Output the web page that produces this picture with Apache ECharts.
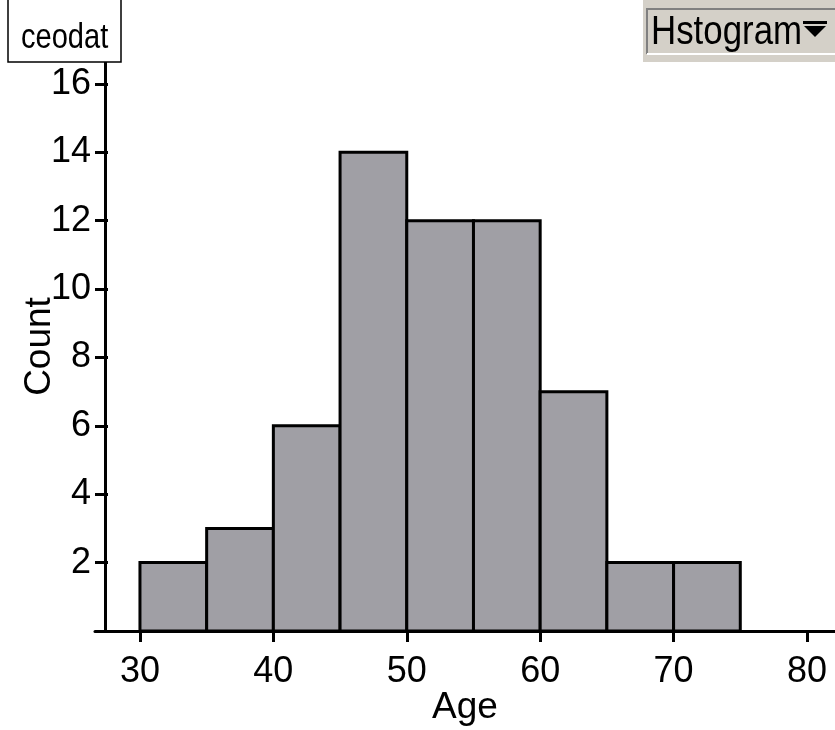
<!DOCTYPE html>
<html>
<head>
<meta charset="utf-8">
<style>
  html, body { margin: 0; padding: 0; background: #ffffff; }
  #chart { width: 835px; height: 730px; }
</style>
<script src="https://cdn.jsdelivr.net/npm/echarts@6/dist/echarts.min.js"></script>
</head>
<body>
<div id="chart"></div>
<script>
// Age distribution of CEOs (dataset "ceodat"), 5-year bins
const binStarts = [30, 35, 40, 45, 50, 55, 60, 65, 70];
const counts = [2, 3, 6, 14, 12, 12, 7, 2, 2];
const binWidth = 5;
const xTicks = [30, 40, 50, 60, 70, 80];
const yTicks = [2, 4, 6, 8, 10, 12, 14, 16];

const FONT = '"Liberation Sans", Arial, Helvetica, sans-serif';

const chart = echarts.init(document.getElementById('chart'), null, { renderer: 'canvas' });

const barData = binStarts.map((s, i) => [s, s + binWidth, counts[i]]);

const yBase = {
  type: 'value',
  position: 'left',
  min: 0,
  max: 16.64,
  interval: 2,
  offset: -10,
  splitLine: { show: false }
};

chart.setOption({
  animation: false,
  backgroundColor: '#ffffff',
  grid: { left: 95, right: 0, top: 62, bottom: 99, containLabel: false, outerBoundsMode: 'none' },
  xAxis: {
    type: 'value',
    min: 26.63,
    max: 82.1,
    interval: 10,
    name: 'Age',
    nameLocation: 'middle',
    nameGap: 58,
    nameMoveOverlap: false,
    nameTextStyle: { fontFamily: FONT, fontSize: 37, color: '#000' },
    axisLine: { show: true, lineStyle: { color: '#000', width: 3 } },
    axisTick: {
      show: true, length: 11, lineStyle: { color: '#000', width: 3 },
      customValues: xTicks
    },
    axisLabel: {
      show: true, margin: 23, fontFamily: FONT, fontSize: 36, color: '#000',
      customValues: xTicks
    },
    splitLine: { show: false }
  },
  yAxis: [
    Object.assign({}, yBase, {
      name: 'Count',
      nameLocation: 'middle',
      nameGap: 47,
      nameRotate: 90,
      nameMoveOverlap: false,
      nameTextStyle: { fontFamily: FONT, fontSize: 37, color: '#000' },
      axisLine: { show: true, lineStyle: { color: '#000', width: 3 } },
      axisTick: { show: true, length: 10, lineStyle: { color: '#000', width: 3 }, customValues: yTicks },
      axisLabel: { show: true, margin: 14, fontFamily: FONT, fontSize: 36, color: '#000', customValues: yTicks }
    }),
    Object.assign({}, yBase, {
      axisLine: { show: false },
      axisTick: { show: true, inside: true, length: 3, lineStyle: { color: '#000', width: 3 }, customValues: yTicks },
      axisLabel: { show: false }
    })
  ],
  series: [{
    type: 'custom',
    xAxisIndex: 0,
    yAxisIndex: 0,
    data: barData,
    encode: { x: [0, 1], y: 2 },
    renderItem: function (params, api) {
      const p0 = api.coord([api.value(0), api.value(2)]);
      const p1 = api.coord([api.value(1), 0]);
      return {
        type: 'rect',
        shape: { x: p0[0], y: p0[1], width: p1[0] - p0[0], height: p1[1] - p0[1] },
        style: { fill: '#a09fa5', stroke: '#000', lineWidth: 3 }
      };
    }
  }],
  graphic: [
    // dataset name box
    {
      type: 'rect', z: 10,
      shape: { x: 8, y: -4, width: 113, height: 66 },
      style: { fill: '#ffffff', stroke: '#000', lineWidth: 1.5 }
    },
    {
      type: 'text', z: 11, x: 21, y: 38, scaleX: 0.83,
      style: { text: 'ceodat', fontFamily: FONT, fontSize: 35, fill: '#000', verticalAlign: 'middle', align: 'left' }
    },
    // plot type selector
    {
      type: 'rect', z: 10,
      shape: { x: 643, y: 0, width: 192, height: 62 },
      style: { fill: '#d4d0c8' }
    },
    {
      type: 'polyline', z: 11,
      shape: { points: [[647, 54], [647, 9], [835, 9]] },
      style: { stroke: '#808080', lineWidth: 2, fill: null }
    },
    {
      type: 'line', z: 11,
      shape: { x1: 647, y1: 54, x2: 835, y2: 54 },
      style: { stroke: '#ffffff', lineWidth: 2 }
    },
    {
      type: 'text', z: 12, x: 651, y: 33, scaleX: 0.85,
      style: { text: 'Hstogram', fontFamily: FONT, fontSize: 41, fill: '#000', verticalAlign: 'middle', align: 'left' }
    },
    {
      type: 'rect', z: 12,
      shape: { x: 803, y: 21, width: 24, height: 3 },
      style: { fill: '#000' }
    },
    {
      type: 'polygon', z: 12,
      shape: { points: [[804, 26], [826, 26], [815, 37]] },
      style: { fill: '#000' }
    }
  ]
});
</script>
</body>
</html>
